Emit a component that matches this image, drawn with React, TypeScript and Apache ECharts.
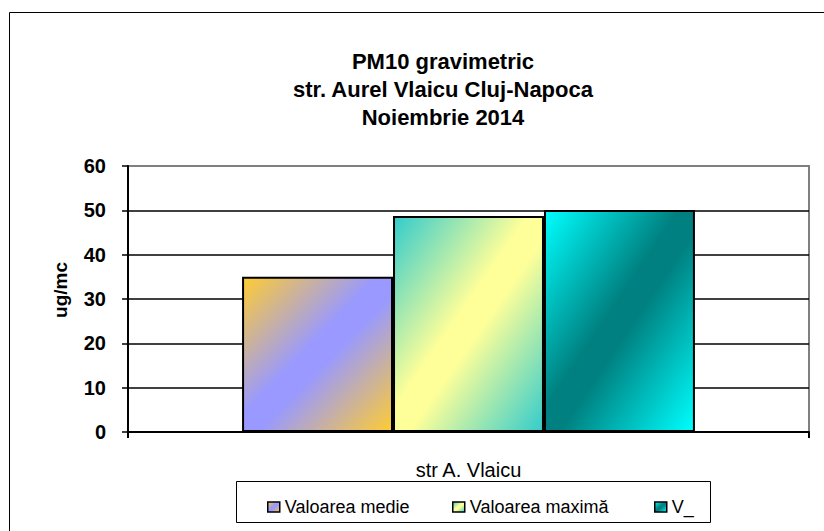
import React, { useEffect, useRef } from "react";
import * as echarts from "echarts";

const categories = ["str A. Vlaicu"];
const seriesNames = ["Valoarea medie", "Valoarea maximă", "V_"];
const seriesValues = [[35.0], [48.7], [50.1]];
const titleLines = ["PM10 gravimetric", "str. Aurel Vlaicu Cluj-Napoca", "Noiembrie 2014"];
const yAxisName = "ug/mc";

const FONT = "'Liberation Sans', Arial, sans-serif";

const grads = [
  ["#ffcc33", "#9999ff", "#9999ff", "#ffcc33"],
  ["#33cccc", "#ffff99", "#ffff99", "#33cccc"],
  ["#00ffff", "#008080", "#008080", "#00ffff"],
];

const legendLefts = [262, 447, 649];

function mkGrad(c: string[]) {
  return new echarts.graphic.LinearGradient(0, 0, 1, 1, [
    { offset: 0, color: c[0] },
    { offset: 0.45, color: c[1] },
    { offset: 0.55, color: c[2] },
    { offset: 1, color: c[3] },
  ]);
}

export default function App() {
  const ref = useRef<HTMLDivElement>(null);
  useEffect(() => {
    if (!ref.current) return;
    const chart = echarts.init(ref.current, null, { renderer: "svg" });
    chart.setOption({
      animation: false,
      backgroundColor: "#ffffff",
      title: {
        text: titleLines.join("\n"),
        left: 438,
        top: 42,
        textAlign: "center",
        textStyle: {
          fontFamily: FONT,
          fontWeight: "bold",
          fontSize: 22,
          lineHeight: 28,
          color: "#000",
        },
      },
      graphic: [
        {
          type: "rect",
          shape: { x: 9.5, y: 12.5, width: 900, height: 600 },
          style: { fill: "none", stroke: "#000", lineWidth: 1 },
          silent: true,
          z: -1,
        },
        {
          type: "rect",
          shape: { x: 236.5, y: 481.5, width: 474, height: 41 },
          style: { fill: "none", stroke: "#000", lineWidth: 1 },
          silent: true,
        },
        {
          type: "text",
          x: 60,
          y: 290,
          rotation: Math.PI / 2,
          style: {
            text: yAxisName,
            fontFamily: FONT,
            fontWeight: "bold",
            fontSize: 19,
            fill: "#000",
            align: "center",
            verticalAlign: "middle",
          },
          silent: true,
        },
      ],
      legend: seriesNames.map((name, i) => ({
        left: legendLefts[i],
        top: 493,
        itemWidth: 12,
        itemHeight: 10,
        icon: "rect",
        data: [name],
        itemStyle: { borderColor: "#000", borderWidth: 1.5 },
        textStyle: { fontFamily: FONT, fontSize: 18, color: "#000" },
      })),
      grid: {
        left: 128,
        right: 15,
        top: 166,
        bottom: 99,
        show: true,
        borderColor: "#808080",
        borderWidth: 2,
        backgroundColor: "transparent",
      },
      xAxis: {
        type: "category",
        data: categories,
        axisLine: { show: true, lineStyle: { color: "#000", width: 2 } },
        axisTick: { show: true, length: 6, lineStyle: { color: "#000", width: 2 } },
        axisLabel: {
          margin: 28,
          fontFamily: FONT,
          fontSize: 20,
          color: "#000",
        },
      },
      yAxis: {
        type: "value",
        min: 0,
        max: 60,
        interval: 10,
        axisLine: { show: true, lineStyle: { color: "#000", width: 2 } },
        axisTick: { show: true, length: 6, lineStyle: { color: "#000", width: 1.5 } },
        axisLabel: {
          margin: 22,
          fontFamily: FONT,
          fontWeight: "bold",
          fontSize: 20,
          color: "#000",
        },
        splitLine: {
          show: true,
          lineStyle: {
            color: ["#000", "#000", "#000", "#000", "#000", "#000", "#808080"],
            width: 1.5,
          },
        },
      },
      series: seriesNames.map((name, i) => ({
        name,
        type: "bar",
        data: seriesValues[i],
        barGap: "0%",
        barCategoryGap: "33.5%",
        itemStyle: { color: mkGrad(grads[i]), borderColor: "#000", borderWidth: 2 },
      })),
    });
    return () => chart.dispose();
  }, []);
  return (
    <div
      ref={ref}
      style={{ position: "fixed", left: 0, top: 0, width: 824, height: 531 }}
    />
  );
}
